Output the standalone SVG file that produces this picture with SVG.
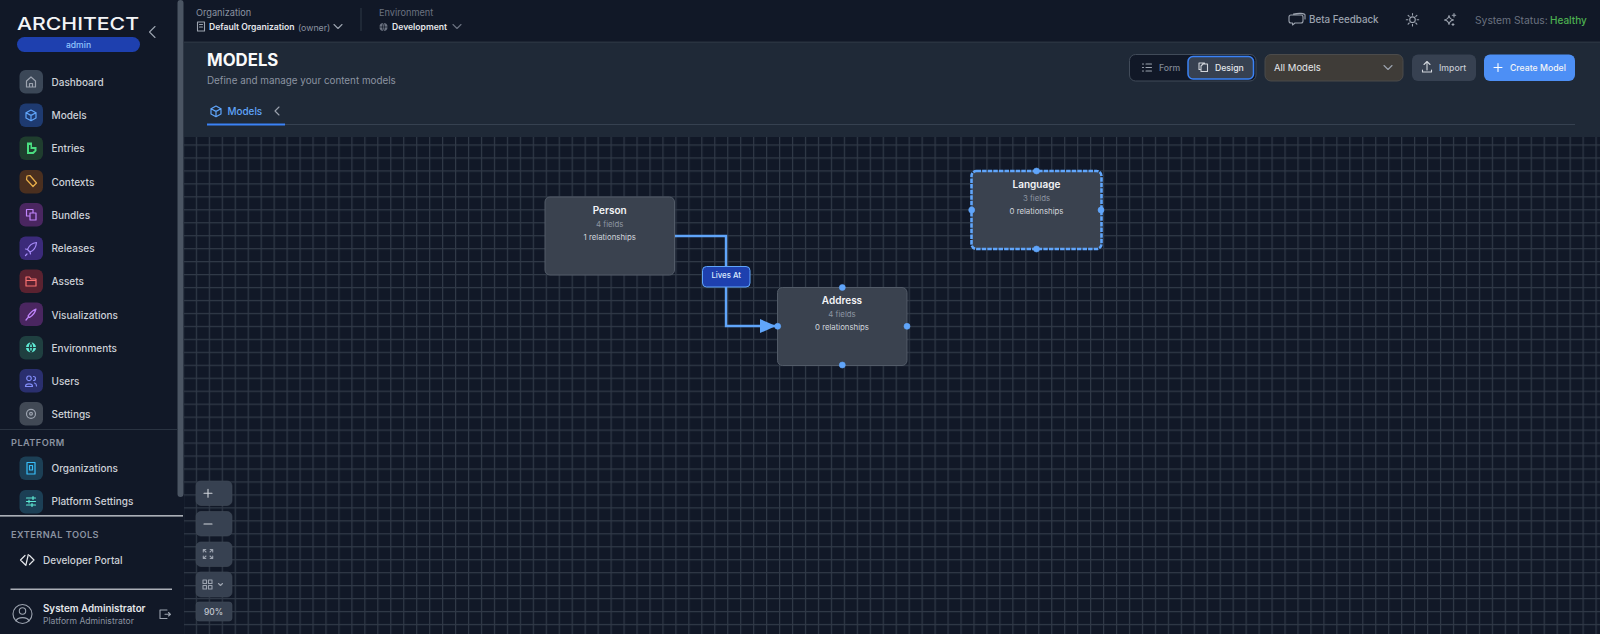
<svg xmlns="http://www.w3.org/2000/svg" width="1600" height="634" viewBox="0 0 1600 634">
<style>
text{font-family:"Inter","Liberation Sans",sans-serif;dominant-baseline:central}
.nav{font-size:10px;font-weight:500;fill:#cdd1d7}
.sec{font-size:9.2px;font-weight:600;fill:#8b93a1;letter-spacing:.45px}
.ic{fill:none;stroke-width:1.2;stroke-linecap:round;stroke-linejoin:round}
.g{fill:none;stroke:#9ca3af;stroke-width:1.1;stroke-linecap:round;stroke-linejoin:round}
.ctl{fill:#374151;stroke:#414b59;stroke-width:.6}
.n{fill:#3a424f;stroke:#525b68;stroke-width:1}
.t{font-size:10px;font-weight:600;fill:#f3f4f6;text-anchor:middle}
.f{font-size:7.8px;fill:#8d95a2;text-anchor:middle}
.r{font-size:7.8px;fill:#d1d5db;text-anchor:middle}
.h{fill:#60a5fa;stroke:#60a5fa;stroke-width:.6}
.btn{font-size:8.7px;font-weight:500}
</style>
<defs>
<pattern id="grid" x="195.800" y="144.400" width="12.96" height="12.96" patternUnits="userSpaceOnUse">
<path d="M0 0H12.96V1.200H0ZM0 1.200H1.200V12.96H0Z" fill="#303947"/>
</pattern>
<marker id="arrow" markerUnits="userSpaceOnUse" markerWidth="17" markerHeight="15" refX="16" refY="7" orient="auto">
<path d="M0 0L16 7L0 14Z" fill="#60a5fa"/>
</marker>
</defs>
<rect width="1600" height="634" fill="#111827"/>
<rect x="184" y="137" width="1416" height="497" fill="#111827"/>
<rect x="184" y="137" width="1416" height="497" fill="url(#grid)"/>
<rect x="184" y="42" width="1416" height="95" fill="#1f2937"/>
<rect x="184" y="41.6" width="1416" height="1" fill="#303a48"/>
<rect x="0" y="0" width="177" height="634" fill="#111827"/>
<rect x="177" y="0" width="7" height="634" fill="#111827"/>
<rect x="177.500" y="0" width="6" height="497" rx="3" fill="#4b5563"/>

<g id="sidebar">
<text x="17" y="23.500" font-size="17.500" font-weight="500" fill="#f3f4f6" textLength="122" lengthAdjust="spacingAndGlyphs">ARCHITECT</text>
<rect x="17" y="37" width="123" height="15" rx="7.500" fill="#1e40af"/>
<text x="78.500" y="44.800" font-size="8.600" font-weight="500" fill="#93c5fd" text-anchor="middle">admin</text>
<path d="M155 26.500L149.500 32L155 37.500" class="g"/>
</g>

<g id="nav-dashboard"><rect x="19.500" y="70" width="23.500" height="23.500" rx="6" fill="#3b4757"/><path class="ic" stroke="#9ca3af" d="M26.500 81L31 77L35.500 81V87H26.500ZM29.500 87V83.500H32.500V87"/><text class="nav" x="51.500" y="82">Dashboard</text></g>
<g id="nav-models"><rect x="19.500" y="103.500" width="23.500" height="23.500" rx="6" fill="#1e3a70"/><path class="ic" stroke="#60a5fa" d="M31 110L36 112.700V118L31 120.700L26 118V112.700ZM26 112.700L31 115.400L36 112.700M31 115.400V120.700"/><text class="nav" x="51.500" y="115">Models</text></g>
<g id="nav-entries"><rect x="19.500" y="136.500" width="23.500" height="23.500" rx="6" fill="#1f3d2e"/><path fill="#4ade80" d="M27 142.500H32V147H36.500V151L33.500 154H27Z"/><path fill="#1f3d2e" d="M29 145H30.500V149H34.500V150.500L32.500 152H29Z"/><text class="nav" x="51.500" y="148">Entries</text></g>
<g id="nav-contexts"><rect x="19.500" y="170" width="23.500" height="23.500" rx="6" fill="#4a2f1f"/><path class="ic" stroke="#eab04a" stroke-width="1.500" d="M27 176L30 175.500L36.500 183L33 186.500L26.500 179.500Z"/><text class="nav" x="51.500" y="181.500">Contexts</text></g>
<g id="nav-bundles"><rect x="19.500" y="203" width="23.500" height="23.500" rx="6" fill="#4a2660"/><path class="ic" stroke="#c084fc" stroke-width="1.400" d="M26.500 209.500H33V213M30 213H36V220H30ZM26.500 209.500V216H30"/><text class="nav" x="51.500" y="215">Bundles</text></g>
<g id="nav-releases"><rect x="19.500" y="236.500" width="23.500" height="23.500" rx="6" fill="#3b2a7a"/><path class="ic" stroke="#a78bfa" stroke-width="1.300" d="M36.500 242.500C32 243 29 245.500 27.500 249.500L30 252C34 250.500 36 247.500 36.500 242.500ZM27.500 249.500L25.500 249M30 252L30.500 254M27 254L25.500 255.500"/><text class="nav" x="51.500" y="248">Releases</text></g>
<g id="nav-assets"><rect x="19.500" y="269.500" width="23.500" height="23.500" rx="6" fill="#5a2230"/><path class="ic" stroke="#f87171" stroke-width="1.300" d="M26 277H29.500L31 279H36V286H26ZM26 280.500H36"/><text class="nav" x="51.500" y="281">Assets</text></g>
<g id="nav-visualizations"><rect x="19.500" y="302.500" width="23.500" height="23.500" rx="6" fill="#4a2660"/><path class="ic" stroke="#c084fc" stroke-width="1.800" d="M36 309C35 313 32 316 29.500 317.500L28 316C29.500 313.500 32.500 310.500 36 309ZM28.500 317L26 320"/><text class="nav" x="51.500" y="314.500">Visualizations</text></g>
<g id="nav-environments"><rect x="19.500" y="336" width="23.500" height="23.500" rx="6" fill="#1f3f40"/><circle cx="31" cy="347.500" r="5" fill="#5eead4"/><path class="ic" stroke="#1f3f40" stroke-width=".9" d="M26 347.500H36M31 342.500C29 345.500 29 349.500 31 352.500M31 342.500C33 345.500 33 349.500 31 352.500"/><text class="nav" x="51.500" y="347.500">Environments</text></g>
<g id="nav-users"><rect x="19.500" y="369" width="23.500" height="23.500" rx="6" fill="#2a2f6e"/><path class="ic" stroke="#818cf8" stroke-width="1.200" d="M29 376a2.300 2.300 0 1 0 .01 0ZM25.500 386.500C25.500 383 32.500 383 32.500 386.500ZM33.500 376.500a2 2 0 0 1 0 4M34.500 383C36.500 383.500 36.500 385 36.500 386"/><text class="nav" x="51.500" y="381">Users</text></g>
<g id="nav-settings"><rect x="19.500" y="402" width="23.500" height="23.500" rx="6" fill="#414955"/><circle cx="31" cy="413.800" r="4.500" class="ic" stroke="#9ca3af"/><circle cx="31" cy="413.800" r="1.400" class="ic" stroke="#9ca3af"/><text class="nav" x="51.500" y="414">Settings</text></g>
<rect x="0" y="429" width="177" height="1" fill="#2a3341"/>
<text class="sec" x="11" y="442">PLATFORM</text>
<g id="nav-organizations"><rect x="19.500" y="456.500" width="23.500" height="23.500" rx="6" fill="#1c3f55"/><path class="ic" stroke="#38bdf8" d="M27 462.500H35V474H27ZM29.500 465.500H32.500V470H29.500Z"/><text class="nav" x="51.500" y="468">Organizations</text></g>
<g id="nav-platform-settings"><rect x="19.500" y="490" width="23.500" height="23.500" rx="6" fill="#1c3f55"/><path class="ic" stroke="#5eead4" d="M26.500 498H35.500M26.500 501.500H35.500M26.500 505H35.500M33 496.500V499.500M29 500V503M32 503.500V506.500"/><text class="nav" x="51.500" y="501">Platform Settings</text></g>
<rect x="0" y="515.200" width="183" height="1.300" fill="#d1d5db"/>
<text class="sec" x="11" y="534">EXTERNAL TOOLS</text>
<g id="nav-developer"><path class="g" style="stroke:#e5e7eb;stroke-width:1.200" d="M25 555.500L20.500 560L25 564.500M28.300 554.500L25.800 565.500M29.500 555.500L34 560L29.500 564.500"/><text class="nav" x="43" y="560">Developer Portal</text></g>
<rect x="10.500" y="588.600" width="161.500" height="1.200" fill="#d1d5db"/>
<g id="user">
<circle cx="22.500" cy="614" r="9.500" class="g"/><circle cx="22.500" cy="611" r="3.200" class="g"/><path class="g" d="M16 621C17.500 616.500 27.500 616.500 29 621"/>
<text x="43" y="608" font-size="9.800" font-weight="600" fill="#e5e7eb">System Administrator</text>
<text x="43" y="621" font-size="8.600" fill="#8b93a1">Platform Administrator</text>
<path class="g" d="M167 610H160V618.500H167M165 614.300H170M168.500 612.500L170.500 614.300L168.500 616"/>
</g>

<g id="canvas-controls">
<rect class="ctl" x="196" y="481" width="36" height="24.500" rx="5"/><path class="g" d="M204 493.300H212M208 489.300V497.300" style="stroke:#d1d5db"/>
<rect class="ctl" x="196" y="511.500" width="36" height="24.500" rx="5"/><path class="g" d="M204 524H212" style="stroke:#d1d5db"/>
<rect class="ctl" x="196" y="542" width="36" height="24.500" rx="5"/><path class="g" d="M203.300 552V549.500H205.800M212.700 552V549.500H210.200M203.300 556V558.500H205.800M212.700 556V558.500H210.200M203.500 549.700L206 552M212.500 549.700L210 552M203.500 558.300L206 556M212.500 558.300L210 556"/>
<rect class="ctl" x="196" y="572" width="36" height="25" rx="5"/><path class="g" d="M203 580h3.500v3.500h-3.500zM208.500 580h3.500v3.500h-3.500zM203 585.500h3.500v3.500h-3.500zM208.500 585.500h3.500v3.500h-3.500zM218.500 583.500L220.500 585.500L222.500 583.500"/>
<rect class="ctl" x="196" y="602" width="36" height="19" rx="3"/><text x="213.500" y="612" font-size="8.400" font-weight="500" fill="#c4c9d1" text-anchor="middle">90%</text>
</g>

<g id="topbar">
<text x="196" y="12.500" font-size="9.200" fill="#8b93a1">Organization</text>
<path class="g" d="M197.500 22H204.500V31H197.500ZM199.500 24.500H202.500M199.500 27H202.500"/>
<text x="209" y="27" font-size="8.600" font-weight="600" fill="#e5e7eb">Default Organization</text>
<text x="298" y="27" font-size="8.800" fill="#8b93a1">(owner)</text>
<path class="g" d="M334 24.500L338 28.500L342 24.500"/>
<rect x="360.500" y="8" width="1" height="23" fill="#2f3846"/>
<text x="379" y="12.500" font-size="9.200" fill="#6b7280">Environment</text>
<circle cx="383.500" cy="27" r="4" fill="#6b7280"/><path class="g" style="stroke:#111827;stroke-width:.7" d="M379.500 27H387.500M383.500 23C382 25 382 29 383.500 31M383.500 23C385 25 385 29 383.500 31"/>
<text x="392" y="27" font-size="8.600" font-weight="600" fill="#e5e7eb">Development</text>
<path class="g" d="M453 24.500L457 28.500L461 24.500" style="stroke:#6b7280"/>
<path class="g" d="M1291 15H1301Q1303 15 1303 17V21Q1303 23 1301 23H1295L1292.500 25V23H1291Q1289 23 1289 21V17Q1289 15 1291 15ZM1293.500 14C1298 13 1305 13 1305 15V19"/>
<text x="1309" y="19.500" font-size="9.800" font-weight="500" fill="#9ca3af">Beta Feedback</text>
<circle cx="1412.500" cy="19.700" r="2.800" class="g"/><path class="g" d="M1412.500 13.500v1.600M1412.500 24.300v1.600M1406.300 19.700h1.600M1417.100 19.700h1.600M1408.100 15.300l1.100 1.100M1415.800 23l1.100 1.100M1408.100 24.100l1.100-1.100M1415.800 16.400l1.100-1.100"/>
<path class="g" d="M1449 15.500C1449.500 18.500 1450.500 19.500 1453.500 20C1450.500 20.500 1449.500 21.500 1449 24.500C1448.500 21.500 1447.500 20.500 1444.500 20C1447.500 19.500 1448.500 18.500 1449 15.500ZM1454 13.500V17M1452.300 15.200H1455.700M1453 23.500V25.500M1452 24.500H1454"/>
<text x="1475" y="19.500" font-size="10.300" fill="#6b7280">System Status:</text>
<text x="1550" y="19.500" font-size="10" font-weight="500" fill="#4caf50">Healthy</text>
</g>

<g id="page-header">
<text x="207" y="60" font-size="16.800" font-weight="700" fill="#f9fafb">MODELS</text>
<text x="207" y="79.500" font-size="9.850" fill="#8b93a1">Define and manage your content models</text>
<path class="ic" stroke="#60a5fa" d="M216 106L221 108.700V114L216 116.700L211 114V108.700ZM211 108.700L216 111.400L221 108.700M216 111.400V116.700"/>
<text x="227.500" y="111" font-size="9.900" font-weight="500" fill="#60a5fa">Models</text>
<path class="g" d="M279 107L275 111L279 115"/>
<rect x="207" y="124" width="1368" height="1" fill="#364150"/>
<rect x="207" y="123.500" width="78" height="2" fill="#3b82f6"/>
</g>

<g id="toolbar">
<rect x="1129.500" y="54.500" width="126.500" height="26.500" rx="6" fill="#111827" stroke="#414b59"/>
<path class="g" d="M1142.500 64H1143.500M1142.500 67.500H1143.500M1142.500 71H1143.500M1146 64H1151.500M1146 67.500H1151.500M1146 71H1151.500"/>
<text class="btn" x="1159" y="68" fill="#7f8794">Form</text>
<rect x="1188" y="56.500" width="65.500" height="22.500" rx="5" fill="#374151" stroke="#3b82f6" stroke-width="1.500"/>
<path class="g" d="M1203 64H1207.500V71.500H1201V66ZM1200 69.500H1199V63H1204.500V64" style="stroke:#d1d5db"/>
<text class="btn" x="1215" y="68" fill="#e5e7eb" font-weight="600">Design</text>
<rect x="1265" y="54.500" width="138" height="26.500" rx="6" fill="#3f3c38" stroke="#4b4b4b"/>
<text x="1274" y="67.800" font-size="9.500" font-weight="400" fill="#e5e7eb">All Models</text>
<path class="g" d="M1384 65.500L1388 69.500L1392 65.500"/>
<rect x="1412" y="54.500" width="64" height="26.500" rx="6" fill="#374151"/>
<path class="g" d="M1427 62V70M1424 64.500L1427 61.500L1430 64.500M1422.500 70V72H1431.500V70" style="stroke:#d1d5db"/>
<text class="btn" x="1439" y="68" fill="#c4c9d1">Import</text>
<rect x="1484" y="54.500" width="91" height="26.500" rx="6" fill="#4d8ff5"/>
<path class="g" d="M1494 67.500H1502M1498 63.500V71.500" style="stroke:#fff"/>
<text class="btn" x="1510" y="68" fill="#f3f4f6" font-weight="600">Create Model</text>
</g>

<g id="connectors">
<path d="M674.500 236H726V326H776" fill="none" stroke="#60a5fa" stroke-width="2.400" marker-end="url(#arrow)"/>
<g id="edge-label-lives-at">
<rect x="702.500" y="266.500" width="47.500" height="20.500" rx="4" fill="#1e40af" stroke="#60a5fa" stroke-width="1"/>
<text x="726.200" y="275" font-size="7.800" font-weight="500" fill="#dbeafe" text-anchor="middle">Lives At</text>
</g>
</g>

<g id="node-person">
<rect class="n" x="545" y="197" width="129.500" height="78" rx="5"/>
<text class="t" x="609.700" y="209.800">Person</text>
<text class="f" x="609.700" y="223.500">4 fields</text>
<text class="r" x="609.700" y="236.700">1 relationships</text>
</g>
<g id="node-address">
<rect class="n" x="777.500" y="287.500" width="129.500" height="78" rx="5"/>
<text class="t" x="842" y="300.300">Address</text>
<text class="f" x="842" y="314">4 fields</text>
<text class="r" x="842" y="327">0 relationships</text>
<circle class="h" cx="777.700" cy="326.300" r="3"/><circle class="h" cx="842.300" cy="287.500" r="3"/><circle class="h" cx="907" cy="326.300" r="3"/><circle class="h" cx="842.300" cy="365" r="3"/>
</g>
<g id="node-language">
<rect class="n" style="stroke:none" x="971.500" y="171" width="130" height="78" rx="5"/>
<rect x="971.500" y="171" width="130" height="78" rx="5" fill="none" stroke="#60a5fa" stroke-width="2.600" stroke-dasharray="4.500 1.100"/>
<text class="t" x="1036.500" y="184">Language</text>
<text class="f" x="1036.500" y="197.500">3 fields</text>
<text class="r" x="1036.500" y="211">0 relationships</text>
<circle class="h" cx="1036.500" cy="171" r="3"/><circle class="h" cx="971.700" cy="210" r="3"/><circle class="h" cx="1101" cy="210" r="3"/><circle class="h" cx="1036.500" cy="249" r="3"/>
</g>
</svg>
